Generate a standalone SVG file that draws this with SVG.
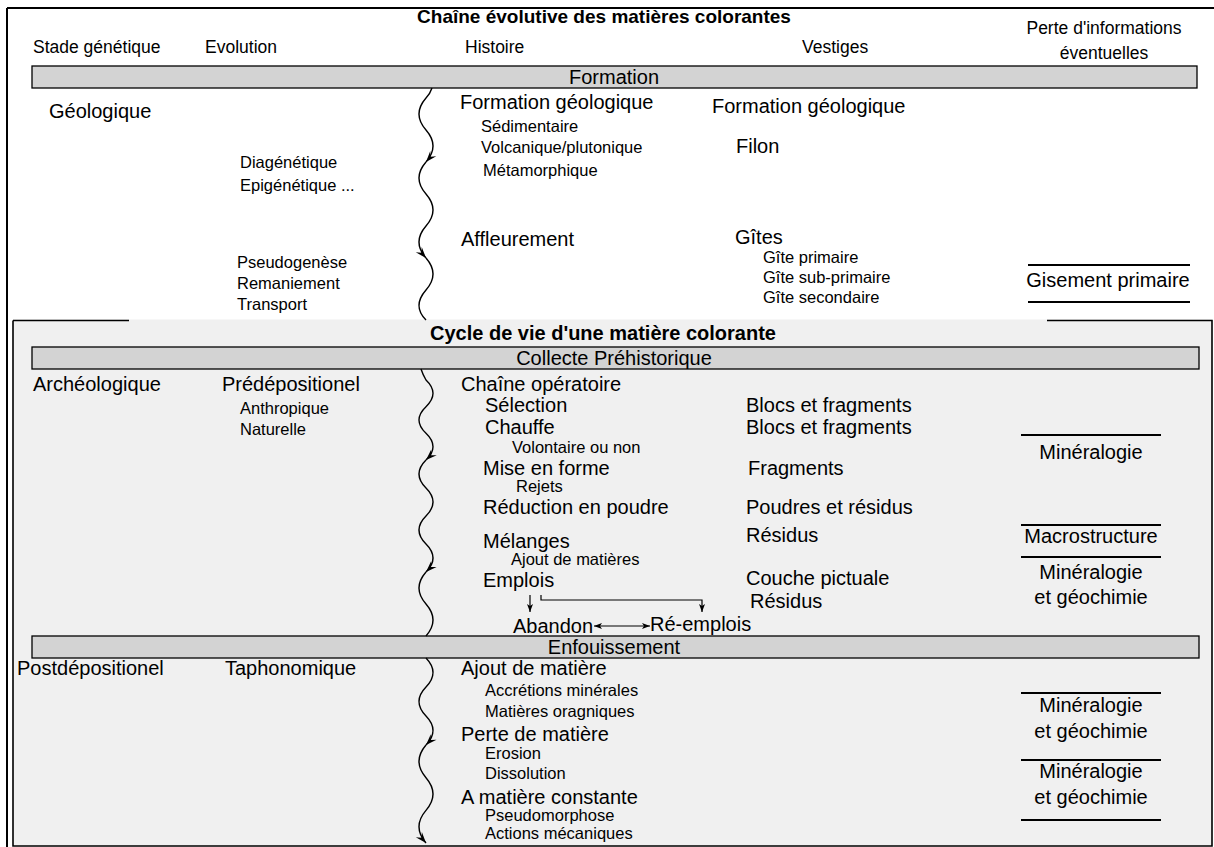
<svg xmlns="http://www.w3.org/2000/svg" width="1214" height="847" viewBox="0 0 1214 847">
<defs>
<style>
text{font-family:"Liberation Sans",Arial,sans-serif;font-size:20px;fill:#000}
.h{font-size:17.5px}
.s{font-size:16.5px}
.b{font-weight:bold}
.m{text-anchor:middle}
.bar{fill:#d3d3d3;stroke:#000;stroke-width:1.3}
.hl{stroke:#000;stroke-width:2;fill:none}
.fr{stroke:#000;stroke-width:1.6;fill:none}
.w{stroke:#000;stroke-width:1.4;fill:none}
.c{stroke:#000;stroke-width:1.2;fill:none}
</style>
<marker id="ah" markerUnits="userSpaceOnUse" markerWidth="14" markerHeight="10" refX="0" refY="0" viewBox="-12 -5 14 10" orient="auto">
<path d="M0,0 L-11,-4 L-7,0 L-11,4 Z" fill="#000"/>
</marker>
<marker id="sa" markerUnits="userSpaceOnUse" markerWidth="10" markerHeight="8" refX="0" refY="0" viewBox="-9 -4 10 8" orient="auto-start-reverse">
<path d="M0,0 L-8,-3 L-6,0 L-8,3 Z" fill="#000"/>
</marker>
</defs>
<rect x="0" y="0" width="1214" height="847" fill="#fff"/>
<g id="frame">
<path class="hl" d="M7,8 H1214 M7,8 V847"/>
<rect x="13" y="319.5" width="1199" height="527" fill="#f0f0f0"/>
<path class="fr" d="M13,320.5 H129 M1047,320.5 H1212 V846 H13 V320.5"/>
</g>
<g id="header">
<text class="b m" x="604" y="23" style="font-size:19px">Chaîne évolutive des matières colorantes</text>
<text class="h" x="33" y="53">Stade génétique</text>
<text class="h" x="205" y="53">Evolution</text>
<text class="h" x="465" y="53">Histoire</text>
<text class="h" x="802" y="53">Vestiges</text>
<text class="h m" x="1104" y="34">Perte d'informations</text>
<text class="h m" x="1104" y="59">éventuelles</text>
</g>
<g id="bar-formation">
<rect class="bar" x="32" y="66" width="1165" height="22"/>
<text class="m" x="614" y="84">Formation</text>
</g>
<g id="geologique">
<text x="49" y="118">Géologique</text>
<text class="s" x="240" y="168">Diagénétique</text>
<text class="s" x="240" y="191">Epigénétique ...</text>
<text class="s" x="237" y="268">Pseudogenèse</text>
<text class="s" x="237" y="289">Remaniement</text>
<text class="s" x="237" y="310">Transport</text>
<text x="460" y="109">Formation géologique</text>
<text class="s" x="481" y="132">Sédimentaire</text>
<text class="s" x="481" y="153">Volcanique/plutonique</text>
<text class="s" x="483" y="176">Métamorphique</text>
<text x="461" y="246">Affleurement</text>
<text x="712" y="113">Formation géologique</text>
<text x="736" y="153">Filon</text>
<text x="735" y="244">Gîtes</text>
<text class="s" x="763" y="263">Gîte primaire</text>
<text class="s" x="763" y="283">Gîte sub-primaire</text>
<text class="s" x="763" y="303">Gîte secondaire</text>
</g>
<g id="perte-gisement">
<path class="hl" d="M1028,265 H1190 M1028,302 H1190"/>
<text class="m" x="1108" y="287">Gisement primaire</text>
</g>
<g id="cycle-title">
<text class="b m" x="603" y="340">Cycle de vie d'une matière colorante</text>
</g>
<g id="bar-collecte">
<rect class="bar" x="32" y="347" width="1167" height="22"/>
<text class="m" x="614" y="365">Collecte Préhistorique</text>
</g>
<g id="archeologique">
<text x="33" y="391">Archéologique</text>
<text x="222" y="391">Prédépositionel</text>
<text class="s" x="240" y="414">Anthropique</text>
<text class="s" x="240" y="435">Naturelle</text>
<text x="461" y="391">Chaîne opératoire</text>
<text x="485" y="412">Sélection</text>
<text x="485" y="434">Chauffe</text>
<text class="s" x="512" y="453">Volontaire ou non</text>
<text x="483" y="475">Mise en forme</text>
<text class="s" x="516" y="492">Rejets</text>
<text x="483" y="514">Réduction en poudre</text>
<text x="483" y="548">Mélanges</text>
<text class="s" x="511" y="565">Ajout de matières</text>
<text x="483" y="587">Emplois</text>
<text x="513" y="633">Abandon</text>
<text x="650" y="631">Ré-emplois</text>
<text x="746" y="412">Blocs et fragments</text>
<text x="746" y="434">Blocs et fragments</text>
<text x="748" y="475">Fragments</text>
<text x="746" y="514">Poudres et résidus</text>
<text x="746" y="542">Résidus</text>
<text x="746" y="585">Couche pictuale</text>
<text x="750" y="608">Résidus</text>
</g>
<g id="perte-archeo">
<path class="hl" d="M1021,435 H1161 M1021,525 H1161 M1021,557 H1161"/>
<text class="m" x="1091" y="459">Minéralogie</text>
<text class="m" x="1091" y="543">Macrostructure</text>
<text class="m" x="1091" y="579">Minéralogie</text>
<text class="m" x="1091" y="604">et géochimie</text>
</g>
<g id="bar-enfouissement">
<rect class="bar" x="32" y="636" width="1167" height="22"/>
<text class="m" x="614" y="654">Enfouissement</text>
</g>
<g id="postdepositionel">
<text x="17" y="675">Postdépositionel</text>
<text x="225" y="675">Taphonomique</text>
<text x="461" y="675">Ajout de matière</text>
<text class="s" x="485" y="696">Accrétions minérales</text>
<text class="s" x="485" y="717">Matières oragniques</text>
<text x="461" y="741">Perte de matière</text>
<text class="s" x="485" y="759">Erosion</text>
<text class="s" x="485" y="779">Dissolution</text>
<text x="461" y="804">A matière constante</text>
<text class="s" x="485" y="821">Pseudomorphose</text>
<text class="s" x="485" y="839">Actions mécaniques</text>
</g>
<g id="perte-post">
<path class="hl" d="M1021,693 H1161 M1021,760 H1161 M1021,820 H1161"/>
<text class="m" x="1091" y="712">Minéralogie</text>
<text class="m" x="1091" y="738">et géochimie</text>
<text class="m" x="1091" y="778">Minéralogie</text>
<text class="m" x="1091" y="804">et géochimie</text>
</g>
<g id="connectors">
<path class="w" d="M432,88 Q430,94 426,98 q-14,16 0,32 t0,32" marker-end="url(#ah)"/>
<path class="w" d="M426,162 q-14,16 0,32 t0,32 t0,32" marker-end="url(#ah)"/>
<path class="w" d="M426,258 q14,16 0,32 t0,30"/>
<path class="w" d="M421,369 Q423,375 426,380 q14,13.33 0,26.67 t0,26.67 t0,26.67" marker-end="url(#ah)"/>
<path class="w" d="M426,460 q-14,14 0,28 t0,28 t0,28 t0,28" marker-end="url(#ah)"/>
<path class="w" d="M426,572 q-14,16 0,32 t0,32"/>
<path class="w" d="M426,658 q14,14.5 0,29 t0,29 t0,29" marker-end="url(#ah)"/>
<path class="w" d="M426,745 q-14,16.33 0,32.67 t0,32.67 t0,32.67" marker-end="url(#ah)"/>
<path class="c" d="M530,595 V612" marker-end="url(#sa)"/>
<path class="c" d="M541,595 V600 H702 V612" marker-end="url(#sa)"/>
<path class="c" d="M594,626 H650" marker-start="url(#sa)" marker-end="url(#sa)"/>
</g>
</svg>
